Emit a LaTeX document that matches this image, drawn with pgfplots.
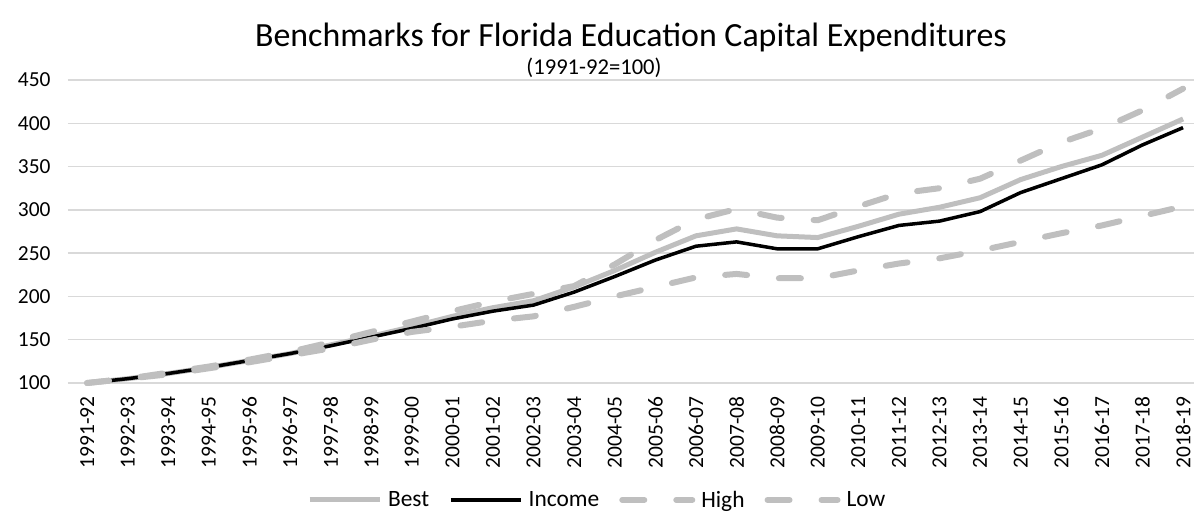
\documentclass[border=0pt]{standalone}
\usepackage{pgfplots}
\pgfplotsset{compat=1.18}
\usepackage{pgfplotstable}
\usepackage{fontspec}
\setmainfont{Carlito}
\definecolor{lgray}{HTML}{BFBFBF}
\definecolor{gridc}{HTML}{D9D9D9}
\pgfplotstableread{
i best income high low
0 100 100 100 100
1 105 105 105 105
2 111 111 112 110
3 118 118 119 117
4 126 126 127 124
5 134 134 136 132
6 144 143 147 140
7 154 153 159 150
8 165 163 171 159
9 177 174 183 165
10 187 183 194 172
11 195 190 203 177
12 211 205 212 188
13 230 223 237 200
14 251 242 265 211
15 270 258 289 222
16 278 263 301 226
17 270 255 291 221
18 268 255 288 221
19 281 269 304 230
20 295 282 319 238
21 303 287 325 244
22 314 298 336 253
23 335 320 357 263
24 350 336 378 273
25 363 352 394 282
26 384 375 415 293
27 405 395 440 304
}\datatable
\begin{document}
\begin{tikzpicture}
\useasboundingbox (-68bp,-138bp) rectangle (1126bp,383bp);
\begin{axis}[
  scale only axis,
  width=1126bp, height=303bp,
  xmin=-0.47, xmax=27.27,
  ymin=100, ymax=450,
  ytick={100,150,...,450},
  xtick={0,...,27},
  xticklabels={1991-92,1992-93,1993-94,1994-95,1995-96,1996-97,1997-98,1998-99,1999-00,2000-01,2001-02,2002-03,2003-04,2004-05,2005-06,2006-07,2007-08,2008-09,2009-10,2010-11,2011-12,2012-13,2013-14,2014-15,2015-16,2016-17,2017-18,2018-19},
  axis line style={draw=none},
  major tick length=0pt,
  xmajorgrids=false,
  ymajorgrids=true,
  major grid style={draw=gridc, line width=1.3bp},
  tick label style={font=\fontsize{21.5}{24}\selectfont, text=black},
  /pgf/number format/assume math mode=true,
  xticklabel style={rotate=90, anchor=east},
  xticklabel shift=10bp,
  yticklabel shift=14bp,
  clip=false,
  legend columns=4,
  legend style={draw=none, at={(0.47,-0.386)}, anchor=center, font=\fontsize{23.5}{26}\selectfont,
    /tikz/every odd column/.append style={column sep=4bp},
    /tikz/every even column/.append style={column sep=18bp}},
  legend image code/.code={\draw[#1] (0bp,0bp) -- (70bp,0bp);},
]
\addplot[lgray, line width=5bp, line join=round] table[x=i,y=best] {\datatable};
\addlegendentry{Best}
\addplot[black, line width=3.5bp, line join=round] table[x=i,y=income] {\datatable};
\addlegendentry{Income}
\addplot[lgray, line width=6bp, line cap=round, line join=round, dash pattern=on 22bp off 32bp] table[x=i,y=high] {\datatable};
\addlegendentry{High}
\addplot[lgray, line width=6bp, line cap=round, line join=round, dash pattern=on 22bp off 32bp] table[x=i,y=low] {\datatable};
\addlegendentry{Low}
\end{axis}
\node[font=\fontsize{34}{38}\selectfont, anchor=center] at (563bp,346bp) {Benchmarks for Florida Education Capital Expenditures};
\node[font=\fontsize{22.7}{26}\selectfont, anchor=center] at (526bp,315bp) {(1991-92=100)};
\end{tikzpicture}
\end{document}
